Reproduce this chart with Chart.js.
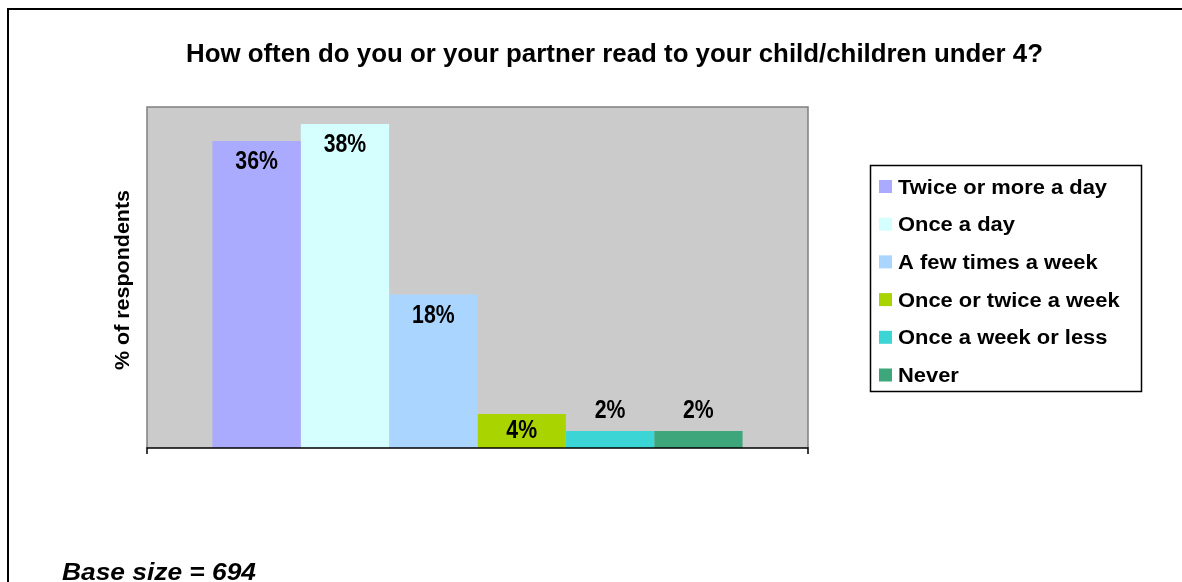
<!DOCTYPE html>
<html>
<head>
<meta charset="utf-8">
<script src="https://cdn.jsdelivr.net/npm/chart.js@4/dist/chart.umd.min.js"></script>
<style>
  html, body { margin: 0; padding: 0; background: #fff; }
  #readingChart { display: block; }
</style>
</head>
<body>
<canvas id="readingChart" width="1182" height="582"></canvas>
<script>
const titleText = 'How often do you or your partner read to your child/children under 4?';
const axisTitle = '% of respondents';
const baseSizeText = 'Base size = 694';

const answers = ['Twice or more a day', 'Once a day', 'A few times a week', 'Once or twice a week', 'Once a week or less', 'Never'];
const percents = [36, 38, 18, 4, 2, 2];
const barColors = ['#AAAAFF', '#D5FFFF', '#AAD5FF', '#AAD400', '#3CD5D5', '#3DA67B'];

const FONT = '"Liberation Sans", Arial, Helvetica, sans-serif';

// draw text squeezed or stretched horizontally to a given width
function fitText(ctx, text, x, y, font, width, align) {
    ctx.save();
    ctx.font = font;
    const w = ctx.measureText(text).width;
    const sx = width ? width / w : 1;
    ctx.translate(x, y);
    ctx.scale(sx, 1);
    ctx.textAlign = align || 'left';
    ctx.fillText(text, 0, 0);
    ctx.restore();
}

const decorations = {
    id: 'decorations',
    beforeDraw(chart) {
        const { ctx, chartArea: { left, top, right, bottom } } = chart;
        ctx.save();
        ctx.fillStyle = '#fff';
        ctx.fillRect(0, 0, chart.width, chart.height);

        // outer frame, runs off the right and bottom edges
        ctx.strokeStyle = '#000';
        ctx.lineWidth = 2;
        ctx.strokeRect(8, 9, 1300, 700);

        // plot area
        ctx.fillStyle = '#CBCBCB';
        ctx.fillRect(left, top, right - left, bottom - top);
        ctx.strokeStyle = '#808080';
        ctx.lineWidth = 1.5;
        ctx.beginPath();
        ctx.moveTo(left, bottom);
        ctx.lineTo(left, top);
        ctx.lineTo(right, top);
        ctx.lineTo(right, bottom);
        ctx.stroke();
        ctx.restore();
    },
    afterDatasetsDraw(chart) {
        const { ctx, chartArea: { left, top, right, bottom } } = chart;
        ctx.save();

        // category axis line with end ticks
        ctx.strokeStyle = '#000';
        ctx.lineWidth = 1.5;
        ctx.beginPath();
        ctx.moveTo(left, bottom + 6);
        ctx.lineTo(left, bottom);
        ctx.lineTo(right, bottom);
        ctx.lineTo(right, bottom + 6);
        ctx.stroke();

        // value labels
        ctx.fillStyle = '#000';
        chart.data.datasets.forEach((ds, i) => {
            const bar = chart.getDatasetMeta(i).data[0];
            const h = bar.base - bar.y;
            let y;
            if (h > 25) {
                y = bar.y + Math.min(19, h / 2 - 2) + 9;
            } else {
                y = bar.y - 22 + 9;
            }
            const label = ds.data[0] + '%';
            ctx.save();
            ctx.font = 'bold 25px ' + FONT;
            ctx.translate(bar.x, y);
            ctx.scale(0.85, 1);
            ctx.textAlign = 'center';
            ctx.fillText(label, 0, 0);
            ctx.restore();
        });

        // title
        fitText(ctx, titleText, 614.5, 62, 'bold 26px ' + FONT, 857, 'center');

        // y axis title
        ctx.save();
        ctx.translate(129, 280);
        ctx.rotate(-Math.PI / 2);
        fitText(ctx, axisTitle, 0, 0, 'bold 21px ' + FONT, 180, 'center');
        ctx.restore();

        // base size note
        fitText(ctx, baseSizeText, 62, 580, 'italic bold 24px ' + FONT, 194, 'left');

        // legend
        ctx.strokeStyle = '#000';
        ctx.lineWidth = 1.5;
        ctx.strokeRect(870.5, 165.5, 271, 226);
        const legendFont = 'bold 20px ' + FONT;
        ctx.font = legendFont;
        const sx = 209 / ctx.measureText(answers[0]).width;
        chart.data.datasets.forEach((ds, i) => {
            const cy = 186.5 + i * 37.7;
            ctx.fillStyle = ds.backgroundColor;
            ctx.fillRect(879, cy - 6.5, 13, 13);
            ctx.fillStyle = '#000';
            ctx.save();
            ctx.font = legendFont;
            ctx.translate(898, cy + 7);
            ctx.scale(sx, 1);
            ctx.fillText(ds.label, 0, 0);
            ctx.restore();
        });

        ctx.restore();
    }
};

new Chart(document.getElementById('readingChart'), {
    type: 'bar',
    data: {
        labels: [''],
        datasets: answers.map((name, i) => ({
            label: name,
            data: [percents[i]],
            backgroundColor: barColors[i],
            borderWidth: 0
        }))
    },
    options: {
        responsive: false,
        animation: false,
        events: [],
        layout: {
            padding: { left: 147, top: 107, right: 374, bottom: 134 }
        },
        datasets: {
            bar: {
                categoryPercentage: 0.802,
                barPercentage: 1
            }
        },
        scales: {
            x: { display: false },
            y: { display: false, min: 0, max: 40 }
        },
        plugins: {
            legend: { display: false },
            title: { display: false },
            tooltip: { enabled: false }
        }
    },
    plugins: [decorations]
});
</script>
</body>
</html>
